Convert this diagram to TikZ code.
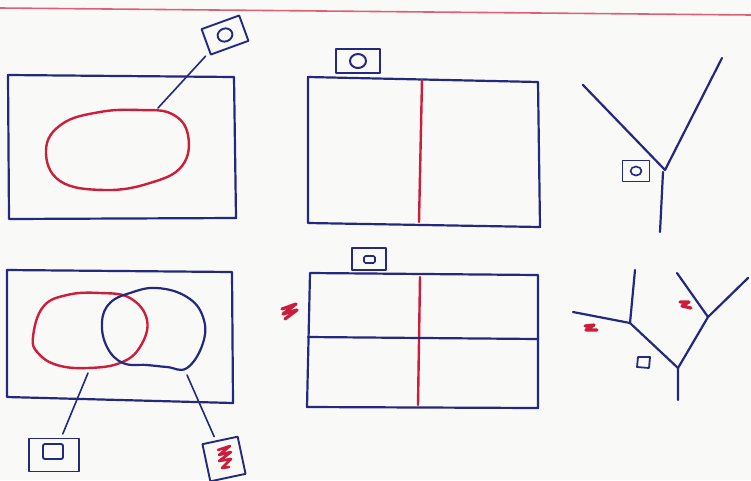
\documentclass[tikz,border=0pt]{standalone}
\definecolor{pen}{RGB}{36,40,126}
\definecolor{ink}{RGB}{204,30,60}
\definecolor{rule}{RGB}{222,96,120}
\definecolor{paper}{RGB}{249,249,247}
\begin{document}
\begin{tikzpicture}[x=1pt, y=-1pt, line join=round, line cap=round,
  penline/.style={draw=pen, line width=2.2pt},
  redline/.style={draw=ink, line width=2.4pt},
  tag/.style={draw=pen, line width=1.9pt, inner sep=0pt},
  scribble/.style={draw=ink, line width=3.2pt}]
  \fill[paper] (0,0) rectangle (751,480);
  \useasboundingbox (0,0) rectangle (751,480);

  \draw[rule, line width=1.6pt] (0,8) -- (751,15);

  % one region
  \draw[penline] (8,75) -- (234,77) -- (236,218) -- (9,219) -- cycle;
  \draw[redline] plot[smooth cycle, tension=0.7] coordinates {(46,150) (62,124) (100,112) (140,110) (172,114) (188,135) (182,166) (150,183) (105,190) (60,181)};
  \node[tag, minimum width=40pt, minimum height=27pt, rotate=20] (tag1) at (225,35) {};
  \draw[pen, line width=1.9pt, rotate around={20:(tag1.center)}] (tag1.center) ellipse (7.5 and 6.5);
  \coordinate (b1) at (158,108);
  \draw[penline, line width=1.6pt, shorten >=5pt] (b1) -- (tag1);

  \draw[penline] (308,77) -- (538,82) -- (540,227) -- (308,223) -- cycle;
  \draw[redline] (422,80) -- (419,222);
  \node[tag, minimum width=44pt, minimum height=24pt] (tag2) at (358,61) {};
  \draw[pen, line width=2pt] (tag2.center) ellipse (8 and 7);

  \draw[penline] (583,85) -- (665,170) -- (722,58);
  \draw[penline] (663,172) -- (660,232);
  \node[tag, minimum width=27pt, minimum height=21pt, line width=1.5pt] (tag3) at (636,171) {};
  \draw[pen, line width=1.6pt] (tag3.center) ellipse (5.5 and 4.5);

  % two regions
  \draw[penline] (7,270) -- (232,272) -- (233,403) -- (7,397) -- cycle;
  \draw[redline] plot[smooth cycle, tension=0.7] coordinates {(33,337) (43,307) (67,295) (100,293) (130,298) (147,320) (140,347) (120,363) (87,368) (57,365) (38,353)};
  \draw[penline] plot[smooth cycle, tension=0.7] coordinates {(102,322) (110,303) (130,293) (157,288) (187,297) (203,317) (203,343) (187,368) (167,367) (147,365) (123,363) (107,347)};
  \node[tag, minimum width=50pt, minimum height=33pt] (tag4) at (54,455) {};
  \draw[pen, line width=1.9pt, rounded corners=2pt] (43,444) rectangle (63,459);
  \node[tag, minimum width=36pt, minimum height=38pt, rotate=12] (tag5) at (224,459) {};
  \draw[scribble, line width=2.6pt] (218,450) -- (230,446) -- (219,455) -- (231,452) -- (219,461) -- (231,459) -- (222,468) -- (229,467);
  \coordinate (b2) at (88,373);
  \coordinate (b3) at (187,375);
  \draw[penline, line width=1.6pt, shorten >=4pt] (b2) -- (tag4);
  \draw[penline, line width=1.6pt, shorten >=4pt] (b3) -- (tag5);

  \draw[penline] (310,273) -- (538,275) -- (538,408) -- (307,407) -- cycle;
  \draw[redline] (420,277) -- (418,405);
  \draw[penline] (308,337) -- (538,339);
  \node[tag, minimum width=34pt, minimum height=22pt] (tag6) at (369,259) {};
  \draw[pen, line width=1.7pt, rounded corners=1.5pt] (364,256) rectangle (375,263);
  \draw[scribble] (282,309) -- (296,304) -- (283,314) -- (297,310) -- (285,319);

  \draw[penline] (573,312) -- (630,323) -- (635,270);
  \draw[penline] (630,323) -- (678,368) -- (678,400);
  \draw[penline] (678,368) -- (708,317) -- (677,273);
  \draw[penline] (708,317) -- (748,278);
  \draw[pen, line width=1.8pt] (638,357) -- (650,357) -- (649,368) -- (637,367) -- cycle;
  \draw[scribble] (680,302) -- (689,302) -- (682,306) -- (691,308);
  \draw[scribble] (585,326) -- (594,325) -- (586,330) -- (597,330);
\end{tikzpicture}
\end{document}
